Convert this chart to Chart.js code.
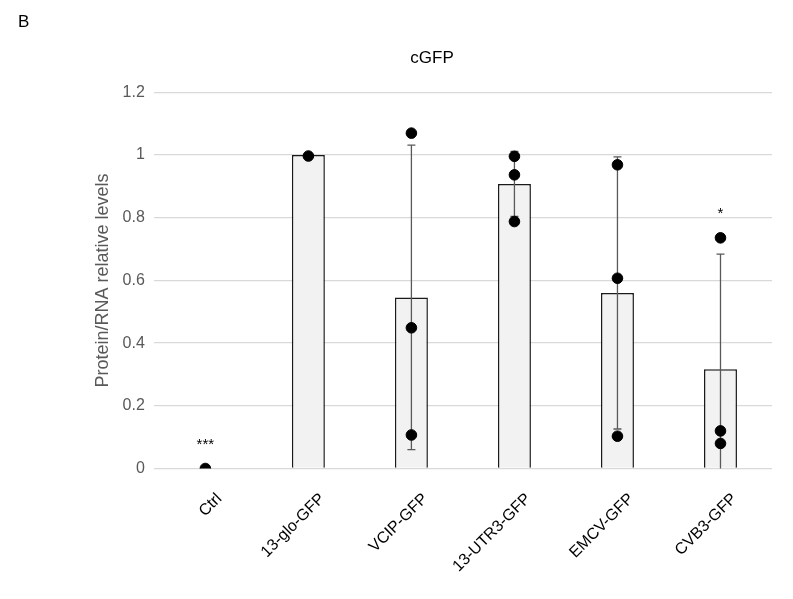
<!DOCTYPE html>
<html><head><meta charset="utf-8">
<script src="https://cdn.jsdelivr.net/npm/chart.js@4.4.0/dist/chart.umd.min.js"></script>
<style>html,body{margin:0;padding:0;background:#fff;}#wrap{position:relative;width:793px;height:599px;}
#lbl{position:absolute;left:18px;top:12px;font:17px "Liberation Sans",Arial,sans-serif;color:#000;}</style>
</head><body>
<div id="wrap"><div id="lbl">B</div><canvas id="c" width="793" height="599"></canvas></div>
<script>
const categories = ['Ctrl','13-glo-GFP','VCIP-GFP','13-UTR3-GFP','EMCV-GFP','CVB3-GFP'];
const meanValues = [0, 1.0, 0.546, 0.908, 0.560, 0.317];
const errorValues = [null, null, 0.486, 0.104, 0.434, 0.367];
const rep1 = [0, 0.997, 1.070, 0.996, 0.969, 0.736];
const rep2 = [null, null, 0.449, 0.937, 0.607, 0.120];
const rep3 = [null, null, 0.107, 0.788, 0.103, 0.080];
const sigLabels = ['***','','','','','*'];
const yTicks = [0, 0.2, 0.4, 0.6, 0.8, 1, 1.2];

const FONT = '"Liberation Sans", Arial, sans-serif';
function pts(arr){ return arr.map((v,i)=> v===null?null:{x:categories[i], y:v}).filter(p=>p); }

const errorBarPlugin = {
  id:'errbars',
  afterDatasetDraw(chart, args){
    if(args.index!==0) return;
    const ctx=chart.ctx, ys=chart.scales.y, xs=chart.scales.x;
    ctx.save();
    ctx.strokeStyle='#595959'; ctx.lineWidth=1.3;
    errorValues.forEach((e,i)=>{
      if(e===null) return;
      const x=xs.getPixelForValue(i);
      const top=ys.getPixelForValue(meanValues[i]+e);
      let lo=meanValues[i]-e; const clipped=lo<0; if(clipped) lo=0;
      const bot=ys.getPixelForValue(lo);
      ctx.beginPath(); ctx.moveTo(x,top); ctx.lineTo(x,bot);
      ctx.moveTo(x-4,top); ctx.lineTo(x+4,top);
      if(!clipped){ ctx.moveTo(x-4,bot); ctx.lineTo(x+4,bot); }
      ctx.stroke();
    });
    ctx.restore();
  },
  afterDraw(chart){
    const ctx=chart.ctx, ys=chart.scales.y, xs=chart.scales.x;
    ctx.save(); ctx.fillStyle='#000'; ctx.font='15px '+FONT; ctx.textAlign='center'; ctx.textBaseline='alphabetic';
    sigLabels.forEach((s,i)=>{
      if(!s) return;
      const vals=[rep1[i],rep2[i],rep3[i],meanValues[i]].filter(v=>v!==null);
      const mx=Math.max(...vals);
      ctx.fillText(s, xs.getPixelForValue(i), ys.getPixelForValue(mx)-20);
    });
    ctx.restore();
  }
};

const pointStyle = {type:'line', showLine:false, pointRadius:5.3, pointHoverRadius:5.3, pointBackgroundColor:'#000', pointBorderColor:'#000', borderColor:'#000', backgroundColor:'#000', order:1};

new Chart(document.getElementById('c'), {
  type:'bar',
  data:{
    labels:categories,
    datasets:[
      {data:meanValues, backgroundColor:'#f2f2f2', borderColor:'#1a1a1a', borderWidth:1.5, barPercentage:0.64, categoryPercentage:0.5, order:2},
      Object.assign({data:pts(rep1)}, pointStyle),
      Object.assign({data:pts(rep2)}, pointStyle),
      Object.assign({data:pts(rep3)}, pointStyle)
    ]
  },
  options:{
    responsive:false, animation:false,
    layout:{padding:{left:92, right:21, top:10, bottom:2}},
    plugins:{
      legend:{display:false}, tooltip:{enabled:false},
      title:{display:true, text:'cGFP', color:'#000', font:{family:FONT, size:17, weight:'normal'}, padding:{top:38, bottom:24}}
    },
    scales:{
      x:{
        grid:{display:false, drawTicks:false}, border:{display:false},
        ticks:{color:'#000', font:{family:FONT, size:16}, minRotation:45, maxRotation:45, padding:21, labelOffset:14}
      },
      y:{
        min:0, max:1.2,
        afterBuildTicks(ax){ ax.ticks = yTicks.map(v=>({value:v})); },
        grid:{color:'#d9d9d9', lineWidth:1.3, drawTicks:false}, border:{display:false},
        ticks:{color:'#595959', font:{family:FONT, size:16}, padding:9, callback:v=>String(v)},
        title:{display:true, text:'Protein/RNA relative levels', color:'#595959', font:{family:FONT, size:18}, padding:{top:0, bottom:0}}
      }
    }
  },
  plugins:[errorBarPlugin]
});
</script>
</body></html>
